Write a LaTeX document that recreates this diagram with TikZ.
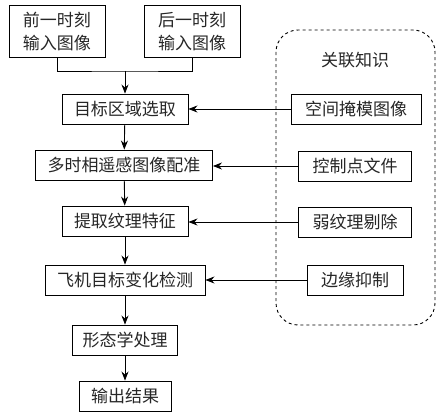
\documentclass[tikz,border=0pt]{standalone}
\usepackage{fontspec}
\newfontfamily\cjk{Noto Sans CJK SC}
\usepackage{tikz}
\usetikzlibrary{positioning,arrows.meta}

\begin{document}
\begin{tikzpicture}[
          x=1pt, y=-1pt,
          box/.style={draw, line width=0.9pt, font=\cjk\fontsize{17}{23}\selectfont,
                      inner xsep=12pt, inner ysep=0pt, minimum height=30pt, text=black!85},
          kbox/.style={box, inner xsep=14pt},
          flow/.style={line width=0.9pt, -{Stealth[length=9pt,width=7pt]}},
          know/.style={line width=0.9pt, dashed, rounded corners=22pt}
      ]
        \useasboundingbox (0,0) rectangle (445,418);
        % input images
        \node[box, align=center, inner xsep=14pt, minimum height=52pt] (prev) at (57,31) {前一时刻\\输入图像};
        \node[box, align=center, inner xsep=14pt, minimum height=52pt] (next) at (192,31) {后一时刻\\输入图像};
        % main flow
        \node[box] (roi) at (125,109) {目标区域选取};
        \node[box] (reg) at (124,165) {多时相遥感图像配准};
        \node[box] (tex) at (125,221) {提取纹理特征};
        \node[box] (det) at (125,280) {飞机目标变化检测};
        \node[box, inner xsep=10pt] (morph) at (125,340) {形态学处理};
        \node[box] (out) at (125,396) {输出结果};
        % knowledge
        \draw[know] (276,30) rectangle (435,325);
        \node[font=\cjk\fontsize{17}{21}\selectfont, text=black!85] (kn) at (355,60) {关联知识};
        \node[kbox] (mask) at (356,109) {空间掩模图像};
        \node[kbox] (ctrl) at (355,166) {控制点文件};
        \node[kbox] (weak) at (355,222) {弱纹理剔除};
        \node[kbox] (edge) at (355,280) {边缘抑制};
        % connectors
        \coordinate (merge) at (125,71);
        \draw[line width=0.9pt] (prev.south) |- (merge) -| (next.south);
        \draw[flow] (merge) -- (roi);
        \draw[flow] (roi) -- (reg);
        \draw[flow] (reg) -- (tex);
        \draw[flow] (tex) -- (det);
        \draw[flow] (det) -- (morph);
        \draw[flow] (morph) -- (out);
        \draw[flow] (mask) -- (roi);
        \draw[flow] (ctrl.west) -- (ctrl.west -| reg.east);
        \draw[flow] (weak.west) -- (weak.west -| tex.east);
        \draw[flow] (edge) -- (det);
      \end{tikzpicture}
\end{document}
